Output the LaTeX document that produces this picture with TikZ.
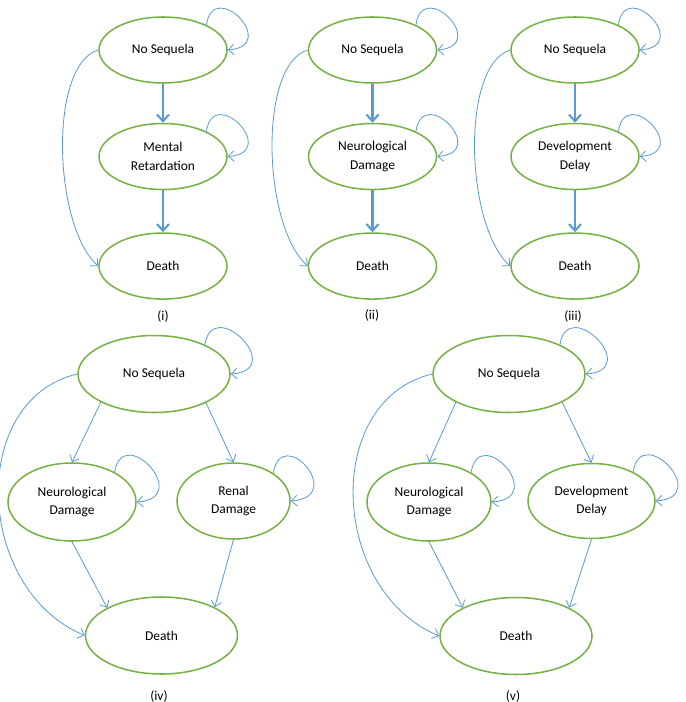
\documentclass[tikz,border=0pt]{standalone}
\usepackage{fontspec}
\setmainfont{Carlito}
\usetikzlibrary{arrows.meta,positioning,shapes.geometric}
\definecolor{stategreen}{HTML}{77B043}
\definecolor{flowblue}{HTML}{5B9BD5}

\begin{document}
\begin{tikzpicture}[
  x=0.3mm,y=0.3mm,
  font=\fontsize{11.5}{16}\selectfont,
  node distance=11.7mm,
  state/.style={draw=stategreen,line width=1.3pt,ellipse,align=center,
    inner sep=0pt,minimum width=38.4mm,minimum height=19.8mm},
  bigstate/.style={state,minimum width=45.6mm,minimum height=23.1mm},
  midstate/.style={state,minimum height=23.4mm},
  main/.style={-{Straight Barb[length=2mm,width=3.6mm]},draw=flowblue,
    line width=1.8pt},
  flow/.style={-{Straight Barb[length=1.7mm,width=3.2mm]},draw=flowblue,
    line width=0.7pt},
  caption/.style={inner sep=0pt}
]
\useasboundingbox (0,0) rectangle (685,-702);

% (i)
\node[state] (ns1) at (163,-50) {No Sequela};
\node[state,below=of ns1] (mr1) {Mental\\Retardation};
\node[state,below=12.6mm of mr1] (d1) {Death};
\node[caption] (c1) at (163,-317) {(i)};
\draw[main] (ns1) -- (mr1);
\draw[main] (mr1) -- (d1);
\draw[flow] (ns1.west) .. controls +(-50,-15) and +(-45,40) .. (d1.west);
\draw[flow] (ns1.30) .. controls +(7,48) and +(53,4) .. (ns1.east);
\draw[flow] (mr1.30) .. controls +(7,48) and +(53,4) .. (mr1.east);

% (ii)
\node[state] (ns2) at (372.5,-50) {No Sequela};
\node[state,below=of ns2] (nd2) {Neurological\\Damage};
\node[state,below=12.6mm of nd2] (d2) {Death};
\node[caption] (c2) at (372,-316) {(ii)};
\draw[main] (ns2) -- (nd2);
\draw[main] (nd2) -- (d2);
\draw[flow] (ns2.west) .. controls +(-50,-15) and +(-45,40) .. (d2.west);
\draw[flow] (ns2.30) .. controls +(7,48) and +(53,4) .. (ns2.east);
\draw[flow] (nd2.30) .. controls +(7,48) and +(53,4) .. (nd2.east);

% (iii)
\node[state] (ns3) at (575,-50) {No Sequela};
\node[state,below=of ns3] (dd3) {Development\\Delay};
\node[state,below=12.6mm of dd3] (d3) {Death};
\node[caption] (c3) at (573,-317) {(iii)};
\draw[main] (ns3) -- (dd3);
\draw[main] (dd3) -- (d3);
\draw[flow] (ns3.west) .. controls +(-50,-15) and +(-45,40) .. (d3.west);
\draw[flow] (ns3.30) .. controls +(7,48) and +(53,4) .. (ns3.east);
\draw[flow] (dd3.30) .. controls +(7,48) and +(53,4) .. (dd3.east);

% (iv)
\node[bigstate] (ns4) at (154,-374) {No Sequela};
\node[midstate] (nd4) at (72,-502) {Neurological\\Damage};
\node[midstate,minimum width=33.9mm,minimum height=22.8mm] (rd4)
  at (233.5,-501) {Renal\\Damage};
\node[bigstate] (d4) at (161.5,-635.5) {Death};
\node[caption] (c4) at (159,-696) {(iv)};
\draw[flow] (ns4.208) -- (nd4.north);
\draw[flow] (ns4.331) -- (rd4.north);
\draw[flow] (nd4.south) -- (d4.153);
\draw[flow] (rd4.south) -- (d4.28);
\draw[flow] (ns4.west) .. controls +(-110,-26) and +(-110,46) .. (d4.west);
\draw[flow] (ns4.30) .. controls +(8,50) and +(57,4) .. (ns4.east);
\draw[flow] (nd4.35) .. controls +(8,50) and +(57,4) .. (nd4.east);
\draw[flow] (rd4.35) .. controls +(8,50) and +(57,4) .. (rd4.east);

% (v)
\node[bigstate] (ns5) at (509,-374) {No Sequela};
\node[midstate,minimum width=37.2mm] (nd5) at (429,-502)
  {Neurological\\Damage};
\node[midstate,minimum width=38.1mm,minimum height=22.5mm] (dd5)
  at (591.5,-501) {Development\\Delay};
\node[bigstate] (d5) at (516,-636) {Death};
\node[caption] (c5) at (513,-696) {(v)};
\draw[flow] (ns5.208) -- (nd5.north);
\draw[flow] (ns5.332) -- (dd5.north);
\draw[flow] (nd5.south) -- (d5.152);
\draw[flow] (dd5.south) -- (d5.28);
\draw[flow] (ns5.west) .. controls +(-110,-26) and +(-110,46) .. (d5.west);
\draw[flow] (ns5.30) .. controls +(8,50) and +(57,4) .. (ns5.east);
\draw[flow] (nd5.35) .. controls +(8,50) and +(57,4) .. (nd5.east);
\draw[flow] (dd5.35) .. controls +(8,50) and +(57,4) .. (dd5.east);
\end{tikzpicture}
\end{document}
